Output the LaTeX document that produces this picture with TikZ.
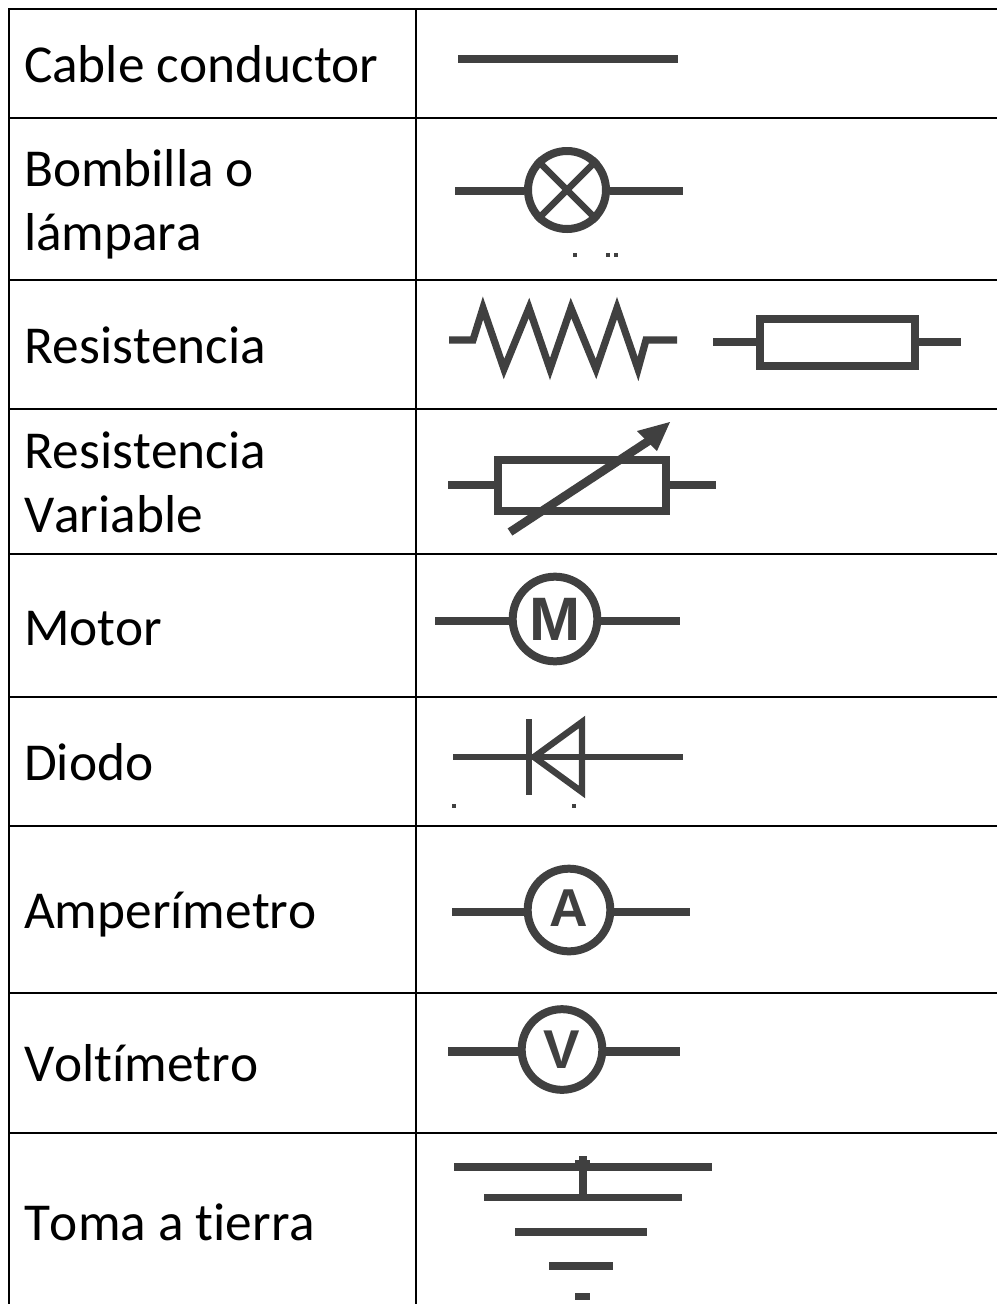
\documentclass[tikz,border=0pt]{standalone}
\usepackage{fontspec}
\setmainfont[Ligatures=CommonOff,Kerning=Off]{Carlito}
\newfontfamily\symfont{Liberation Sans}
\definecolor{sym}{HTML}{404040}
\tikzset{
  x=0.75pt,y=-0.75pt,
  rulethick/.style={draw=black,line width=2.2pt},
  rulethin/.style={draw=black,line width=1.3pt},
  label/.style={anchor=base west,inner sep=0pt,outer sep=0pt,font=\fontsize{40pt}{40pt}\selectfont,text=black},
  wire/.style={draw=sym,line width=6.4pt},
  fine/.style={draw=sym,line width=4.8pt},
  dial/.style={circle,draw=sym,line width=6pt,inner sep=0pt,text=sym},
  speck/.style={fill=sym,draw=none,minimum size=2.4pt,inner sep=0pt},
}
\begin{document}
\begin{tikzpicture}
\useasboundingbox (0,0) rectangle (997,1304);
\fill[white] (0,0) rectangle (997,1304);
% table
\draw[rulethick] (9,9) -- (9,1304);
\draw[rulethick] (416,9) -- (416,1304);
\foreach \y/\a/\b in {9/417/705,118/417/703,280/431/690,409/431/728,554/431/997,697/431/698,826/417/417,993/431/693,1133/431/730}{
  \draw[rulethick] (8,\y) -- (\a,\y);
  \draw[rulethin] (\a,\y) -- (\b,\y);
  \draw[rulethick] (\b,\y) -- (997,\y);
}
% labels
\node[label] (t1) at (24,82) {Cable conductor};
\node[label] (t2) at (24,186) {Bombilla o};
\node[label] (t2b) at (24,250) {lámpara};
\node[label] (t3) at (24,363) {Resistencia};
\node[label] (t4) at (24,468.5) {Resistencia};
\node[label] (t4b) at (24,532.5) {Variable};
\node[label] (t5) at (24,645) {Motor};
\node[label] (t6) at (24,780) {Diodo};
\node[label] (t7) at (24,928) {Amperímetro};
\node[label] (t8) at (24,1081) {Voltímetro};
\node[label] (t9) at (24,1240) {Toma a tierra};
% cable
\coordinate (ca) at (458,59); \coordinate (cb) at (678,59);
\draw[wire] (ca) -- (cb);
% lamp
\node[dial,minimum size=58.5pt] (lamp) at (567,190) {};
\coordinate (la) at (455,191); \coordinate (lb) at (683,191);
\draw[wire] (la) -- (lamp.west |- la);
\draw[wire] (lamp.east |- lb) -- (lb);
\draw[fine] (lamp.45) -- (lamp.225);
\draw[fine] (lamp.135) -- (lamp.315);
\node[speck] (d1) at (575,255) {};
\node[speck] (d2) at (608,255) {};
\node[speck] (d3) at (616,255) {};
% zigzag resistor
\draw[draw=sym,line width=5.4pt,miter limit=10]
  (449,340) -- (473,340) -- (483,308) -- (504,369) -- (529,308) -- (550,369)
  -- (571,308) -- (596,369) -- (617,308) -- (638,369) -- (646,340) -- (677,340);
% box resistor
\node[draw=sym,line width=6pt,rectangle,inner sep=0pt,minimum width=116pt,minimum height=35.5pt] (rb) at (837.5,342.5) {};
\coordinate (ra) at (713,342); \coordinate (rc) at (961,342);
\draw[draw=sym,line width=5.4pt] (ra) -- (rb.west |- ra);
\draw[draw=sym,line width=5.4pt] (rb.east |- rc) -- (rc);
% variable resistor
\node[draw=sym,line width=6pt,rectangle,inner sep=0pt,minimum width=126pt,minimum height=38.25pt] (rv) at (582,485.5) {};
\coordinate (va) at (448,485); \coordinate (vb) at (716,485);
\draw[wire] (va) -- (rv.west |- va);
\draw[wire] (rv.east |- vb) -- (vb);
\coordinate (ar0) at (510,532); \coordinate (ar1) at (650,440);
\draw[wire] (ar0) -- (ar1);
\fill[sym] (670,422) -- (637,431) -- (657,451) -- cycle;
% motor
\node[dial,minimum size=63.5pt,font=\symfont\bfseries\fontsize{46pt}{46pt}\selectfont] (mot) at (555,619) {M};
\coordinate (ma) at (435,621); \coordinate (mb) at (680,621);
\draw[wire] (ma) -- (mot.west |- ma);
\draw[wire] (mot.east |- mb) -- (mb);
% diode
\coordinate (da) at (453,757); \coordinate (db) at (683,757);
\draw[fine] (da) -- (db);
\draw[fine] (529,719) -- (529,795);
\draw[fine,line join=miter] (582,722) -- (582,792) -- (534,757) -- cycle;
\node[speck] (d4) at (454,806) {};
\node[speck] (d5) at (574,806) {};
% ammeter
\node[dial,minimum size=62pt] (amp) at (569,910) {};
\node[inner sep=0pt,text=sym,font=\symfont\bfseries\fontsize{40pt}{40pt}\selectfont] (ampl) at (569,908) {A};
\coordinate (aa) at (452,912); \coordinate (ab) at (690,912);
\draw[wire] (aa) -- (amp.west |- aa);
\draw[wire] (amp.east |- ab) -- (ab);
% voltmeter
\node[dial,minimum size=60.5pt,font=\symfont\bfseries\fontsize{41pt}{41pt}\selectfont] (vol) at (562,1049.5) {V};
\coordinate (wa) at (448,1051.5); \coordinate (wb) at (680,1051.5);
\draw[wire] (wa) -- (vol.west |- wa);
\draw[wire] (vol.east |- wb) -- (wb);
% earth
\draw[draw=sym,line width=6pt] (454,1167) -- (712,1167);
\draw[draw=sym,line width=5.4pt] (484,1197.5) -- (682,1197.5);
\draw[draw=sym,line width=6pt] (515,1232) -- (647,1232);
\draw[draw=sym,line width=6pt] (549,1266) -- (613,1266);
\draw[draw=sym,line width=5.4pt] (575,1296.5) -- (590,1296.5);
\draw[draw=sym,line width=6pt] (583,1156) -- (583,1195);
\fill[sym] (575,1160) rectangle (590,1165);
\end{tikzpicture}
\end{document}
